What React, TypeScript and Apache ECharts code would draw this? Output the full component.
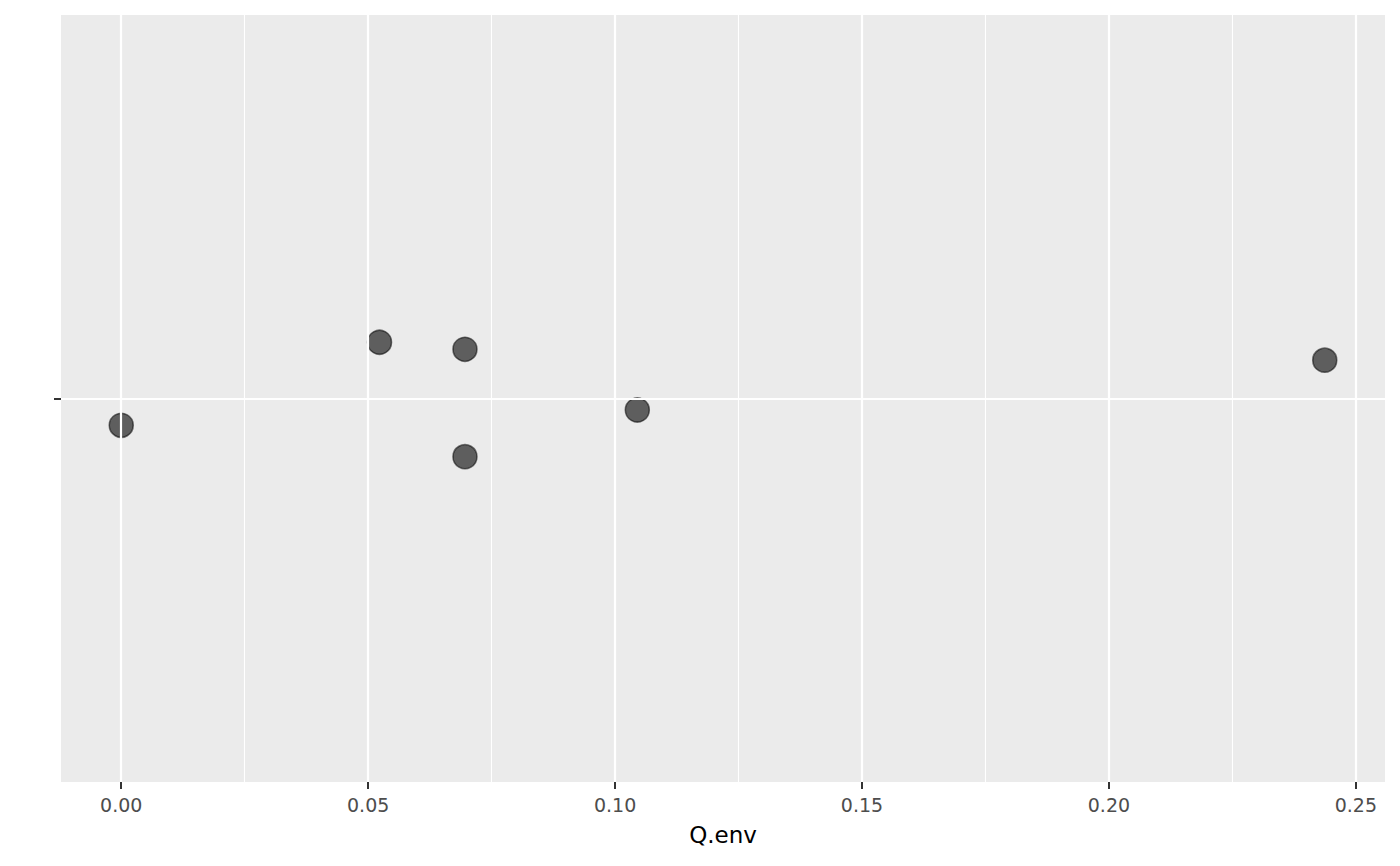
import React, { useEffect, useRef } from "react";
import * as echarts from "echarts";

const qEnv = [0.0, 0.0523, 0.0696, 0.0696, 0.1045, 0.2437];
const jitterY = [0.958, 1.088, 1.077, 0.909, 0.982, 1.06];
const xTicks = [0.0, 0.05, 0.1, 0.15, 0.2, 0.25];
const xMinorTicks = [0.025, 0.075, 0.125, 0.175, 0.225];
const yCategories = [""];
const yCenter = [1];
const xTitle = "Q.env";

export default function App() {
  const ref = useRef<HTMLDivElement>(null);
  useEffect(() => {
    if (!ref.current) return;
    const chart = echarts.init(ref.current, null, { renderer: "svg" });
    const font = "DejaVu Sans";
    const points = qEnv.map((x, i) => [x, jitterY[i]]);
    chart.setOption({
      animation: false,
      backgroundColor: "#ffffff",
      grid: {
        left: 61,
        top: 15,
        right: 15,
        bottom: 84,
        show: true,
        backgroundColor: "#ebebeb",
        borderWidth: 0,
      },
      xAxis: {
        type: "value",
        min: -0.0122,
        max: 0.2559,
        splitLine: { show: false },
        axisLine: { show: false },
        axisTick: {
          show: true,
          customValues: xTicks,
          length: 7,
          lineStyle: { color: "#333333", width: 2 },
        },
        axisLabel: {
          customValues: xTicks,
          formatter: (v: number) => v.toFixed(2),
          color: "#4d4d4d",
          fontSize: 19,
          fontFamily: font,
          margin: 13,
        },
        name: xTitle,
        nameLocation: "middle",
        nameGap: 41,
        nameTextStyle: { color: "#000000", fontSize: 23, fontFamily: font },
      },
      yAxis: [
        {
          type: "value",
          min: 0.4,
          max: 1.6,
          show: true,
          splitLine: { show: false },
          axisLine: { show: false },
          axisTick: { show: false },
          axisLabel: { show: false },
        },
        {
          type: "category",
          data: yCategories,
          position: "left",
          boundaryGap: true,
          splitLine: { show: false },
          axisLine: { show: false },
          axisTick: {
            show: true,
            alignWithLabel: true,
            length: 7,
            lineStyle: { color: "#333333", width: 2 },
          },
          axisLabel: { show: false },
        },
      ],
      series: [
        {
          type: "scatter",
          data: points,
          yAxisIndex: 0,
          symbolSize: 0,
          silent: true,
          z: 1,
          markLine: {
            silent: true,
            symbol: "none",
            precision: 6,
            label: { show: false },
            animation: false,
            data: [
              ...xMinorTicks.map((v) => ({
                xAxis: v,
                lineStyle: { color: "#ffffff", width: 1.1, type: "solid" },
              })),
              ...xTicks.map((v) => ({
                xAxis: v,
                lineStyle: { color: "#ffffff", width: 2.2, type: "solid" },
              })),
              ...yCenter.map((v) => ({
                yAxis: v,
                lineStyle: { color: "#ffffff", width: 2.2, type: "solid" },
              })),
            ],
          },
        },
        {
          type: "scatter",
          data: points,
          yAxisIndex: 0,
          symbol: "circle",
          symbolSize: 24,
          z: 3,
          itemStyle: {
            color: "rgba(0,0,0,0.6)",
            borderColor: "rgba(0,0,0,0.55)",
            borderWidth: 1.5,
            opacity: 1,
          },
        },
      ],
    });
    return () => chart.dispose();
  }, []);
  return (
    <div
      ref={ref}
      style={{ position: "fixed", left: 0, top: 0, width: 1400, height: 866 }}
    />
  );
}
